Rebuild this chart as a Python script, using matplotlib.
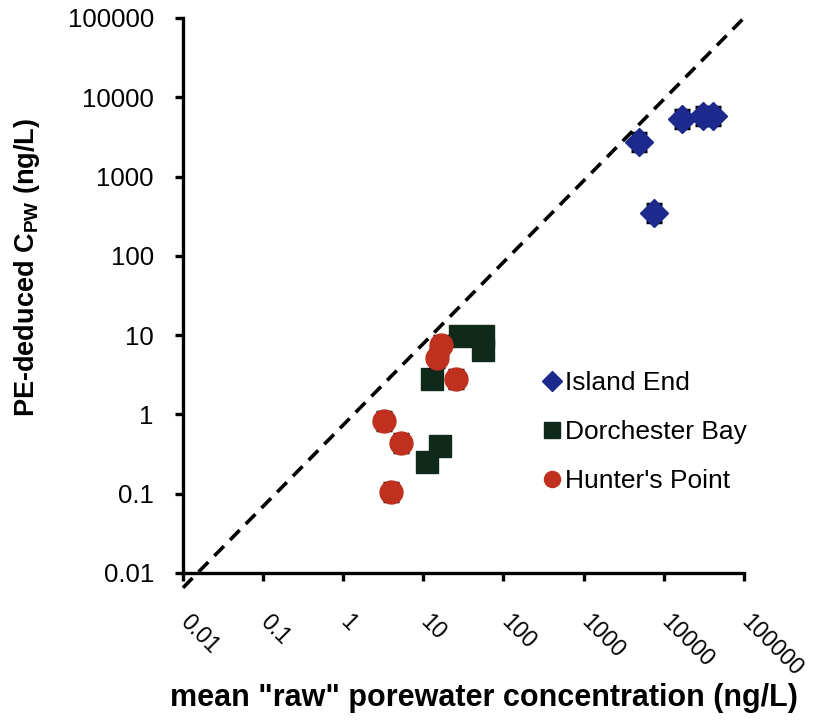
import matplotlib.pyplot as plt
from matplotlib.transforms import ScaledTranslation
import numpy as np

plt.rcParams['font.family'] = ['Liberation Sans', 'DejaVu Sans']
plt.rcParams['mathtext.fontset'] = 'custom'
plt.rcParams['mathtext.bf'] = 'Liberation Sans:bold'
plt.rcParams['mathtext.rm'] = 'Liberation Sans'

# mean raw porewater conc (x) vs PE-deduced Cpw (y), ng/L
island_x = [4900, 7500, 16800, 30900, 41000]
island_y = [2700, 350, 5300, 5800, 5800]
dorch_x = [12.9, 29, 55, 55, 16.3, 11.2]
dorch_y = [2.8, 9.8, 9.8, 6.5, 0.40, 0.25]
hunter_x = [3.2, 5.2, 4.0, 16.8, 15.0, 25.8]
hunter_y = [0.83, 0.435, 0.105, 7.5, 5.1, 2.8]

# multiplicative error (upper = y*f, lower = y/f)
island_err = 1.3
hunter_err = 1.3
dorch_err = 1.2

# 1:1 reference line
line_x = [0.01, 100000]
line_y = [0.0065, 100000]

ticks = [0.01, 0.1, 1, 10, 100, 1000, 10000, 100000]
tick_labels = ['0.01', '0.1', '1', '10', '100', '1000', '10000', '100000']


def err_bounds(y, f):
    y = np.array(y)
    return [y - y / f, y * f - y]


fig = plt.figure(figsize=(8.13, 7.25), dpi=100)
ax = fig.add_axes([0.225, 0.2097, 0.690, 0.7655])

ax.set_xscale('log')
ax.set_yscale('log')
ax.set_xlim(0.01, 100000)
ax.set_ylim(0.01, 100000)

ax.plot(line_x, line_y, color='black', linestyle=(0, (3.8, 2.4)), linewidth=2.6,
        clip_on=False, zorder=1)

ax.errorbar(island_x, island_y, yerr=err_bounds(island_y, island_err), fmt='D',
            color='#1c2a8e', markersize=14, ecolor='black', elinewidth=2,
            capsize=5.5, capthick=2.5, label='Island End', zorder=3)
ax.errorbar(dorch_x, dorch_y, yerr=err_bounds(dorch_y, dorch_err), fmt='s',
            color='#0f2a1a', markersize=16.5, ecolor='black', elinewidth=2,
            capsize=5, capthick=2.5, label='Dorchester Bay', zorder=3)
ax.errorbar(hunter_x, hunter_y, yerr=err_bounds(hunter_y, hunter_err), fmt='o',
            color='#c0301e', markersize=16.5, ecolor='black', elinewidth=2,
            capsize=5.5, capthick=2.5, label="Hunter's Point", zorder=4)

ax.spines['top'].set_visible(False)
ax.spines['right'].set_visible(False)
ax.spines['left'].set_linewidth(2.4)
ax.spines['bottom'].set_linewidth(2.4)

ax.set_xticks(ticks)
ax.set_yticks(ticks)
ax.set_yticklabels(tick_labels)
ax.set_xticklabels(tick_labels, rotation=-45, ha='left', va='top',
                   rotation_mode='anchor')
ax.minorticks_off()
ax.tick_params(axis='both', direction='out', length=6, width=2.4)
ax.tick_params(axis='y', pad=15, labelsize=18.5)
ax.tick_params(axis='x', pad=21, labelsize=16.5)

shift = ScaledTranslation(9 / 100, 0, fig.dpi_scale_trans)
for lab in ax.get_xticklabels():
    lab.set_transform(lab.get_transform() + shift)

ax.set_xlabel('mean "raw" porewater concentration (ng/L)', fontsize=22,
              fontweight='bold')
ax.set_ylabel(r'PE-deduced C$_\mathbf{PW}$ (ng/L)', fontsize=19.5,
              fontweight='bold')
ax.xaxis.set_label_coords(0.537, -0.198)
ax.yaxis.set_label_coords(-0.252, 0.55)

handles, labels = ax.get_legend_handles_labels()
handles = [h[0] for h in handles]
ax.legend(handles, labels, loc='center left', bbox_to_anchor=(0.597, 0.254),
          frameon=False, fontsize=19, markerscale=0.7, handletextpad=0.1,
          handlelength=0.8, labelspacing=0.95)

fig.savefig('out.png', dpi=100)
